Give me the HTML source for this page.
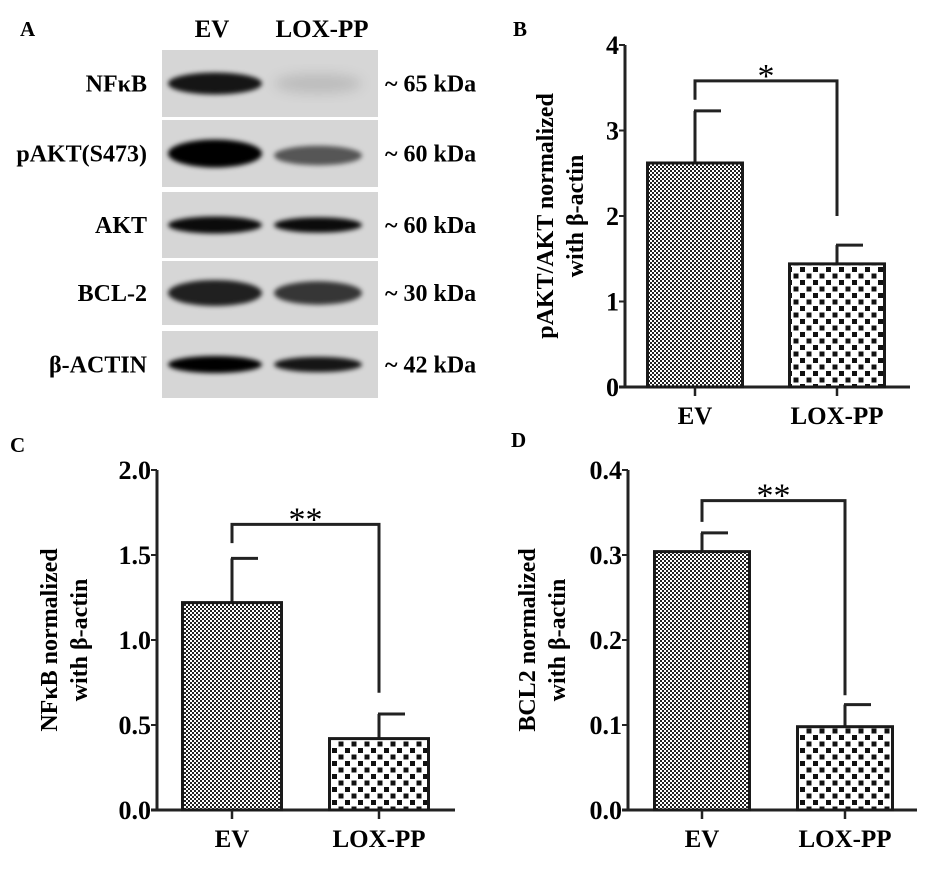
<!DOCTYPE html>
<html><head><meta charset="utf-8"><style>
html,body{margin:0;padding:0;background:#fff;}
svg{display:block;font-family:"Liberation Serif",serif;font-weight:bold;}
</style></head><body>
<svg width="944" height="884" viewBox="0 0 944 884" xmlns="http://www.w3.org/2000/svg">
<defs>
<pattern id="fine" width="4" height="4" patternUnits="userSpaceOnUse"><rect width="4" height="4" fill="#fff"/><rect width="2" height="2" fill="#222"/><rect x="2" y="2" width="2" height="2" fill="#222"/></pattern>
<pattern id="coarse" width="13" height="13" patternUnits="userSpaceOnUse"><rect width="13" height="13" fill="#fff"/><rect x="0.5" y="0.5" width="5" height="5" fill="#111"/><rect x="7" y="7" width="5" height="5" fill="#111"/></pattern>
<filter id="blur" x="-20%" y="-50%" width="140%" height="200%"><feGaussianBlur stdDeviation="2.5"/></filter>
<filter id="blur2" x="-20%" y="-50%" width="140%" height="200%"><feGaussianBlur stdDeviation="6"/></filter>
</defs>

<g>
<text x="20" y="36" font-size="21">A</text>
<text x="212" y="37" font-size="25" text-anchor="middle">EV</text>
<text x="322" y="37" font-size="25" text-anchor="middle">LOX-PP</text>
<g id="blots"></g>
</g>

<g id="chartB"></g>
<g id="chartC"></g>
<g id="chartD"></g>
</svg>
<script>
const NS="http://www.w3.org/2000/svg";
function mk(parent,tag,attrs,text){const e=document.createElementNS(NS,tag);for(const k in attrs)e.setAttribute(k,attrs[k]);if(text!==undefined)e.textContent=text;parent.appendChild(e);return e;}

const blotNames=["NFκB","pAKT(S473)","AKT","BCL-2","β-ACTIN"];
const blotSizes=["~  65 kDa","~  60 kDa","~  60 kDa","~  30 kDa","~  42 kDa"];
const bandEV=[0.9,1.0,0.95,0.85,1.0];
const bandLOX=[0.12,0.6,0.95,0.75,0.9];
const rows=[[50,117],[120,187],[192,258],[261,325],[331,398]];
const blots=document.getElementById('blots');
rows.forEach((r,i)=>{
  const g=mk(blots,'g',{});
  
  
  mk(g,'rect',{x:162,y:r[0],width:216,height:r[1]-r[0],fill:'#d6d6d6'});
  const cy=(r[0]+r[1])/2;
  const h=i==0?22:(i==1?28:(i==3?26:17));
  const ev=mk(g,'ellipse',{cx:215,cy:cy,rx:47,ry:h/2,fill:'#000','fill-opacity':bandEV[i],filter:'url(#blur)'});
  
  
  const lx=mk(g,'ellipse',{cx:318,cy:cy+(i==1?2:0),rx:44,ry:(i==1?h*0.35:h*0.45),fill:'#000','fill-opacity':bandLOX[i],filter:i==0?'url(#blur2)':'url(#blur)'});
  
  
  const t=mk(g,'text',{x:147,y:cy+8,'font-size':24,'text-anchor':'end'},blotNames[i]);
  
  
  const s=mk(g,'text',{x:385,y:cy+8,'font-size':24,'xml:space':'preserve'},blotSizes[i]);
  
  
});

const categories=["EV","LOX-PP"];
const bValues=[2.62,1.44];
const bErrors=[0.61,0.22];
const bTicks=["0","1","2","3","4"];
const cValues=[1.22,0.42];
const cErrors=[0.26,0.145];
const cTicks=["0.0","0.5","1.0","1.5","2.0"];
const dValues=[0.304,0.098];
const dErrors=[0.022,0.026];
const dTicks=["0.0","0.1","0.2","0.3","0.4"];

function chart(id,cfg){
  const g=document.getElementById(id);
  
  
  const y=v=>cfg.y0-(v/cfg.max)*(cfg.y0-cfg.yTop);
  mk(g,'text',{x:cfg.letterX,y:cfg.letterY,'font-size':21},cfg.letter);
  mk(g,'line',{x1:cfg.ax,y1:cfg.yTop,x2:cfg.ax,y2:cfg.y0,stroke:'#222','stroke-width':3});
  mk(g,'line',{x1:cfg.ax-6,y1:cfg.y0,x2:cfg.axEnd,y2:cfg.y0,stroke:'#222','stroke-width':3});
  cfg.ticks.forEach((t,i)=>{
    const v=cfg.max*i/(cfg.ticks.length-1);
    mk(g,'line',{x1:cfg.ax-6,y1:y(v),x2:cfg.ax,y2:y(v),stroke:'#222','stroke-width':2});
    const tx=mk(g,'text',{x:cfg.ax-6,y:y(v)+9,'font-size':26,'text-anchor':'end'},t);
    
    
  });
  const bw=cfg.barW;
  cfg.values.forEach((v,i)=>{
    const cx=cfg.centers[i];
    const top=y(v);
    const et=y(v+cfg.errors[i]);
    mk(g,'line',{x1:cx,y1:top,x2:cx,y2:et,stroke:'#222','stroke-width':3});
    mk(g,'line',{x1:cx-1,y1:et,x2:cx+26,y2:et,stroke:'#222','stroke-width':3});
    const b=mk(g,'rect',{x:cx-bw/2,y:top,width:bw,height:cfg.y0-top,fill:i==0?'url(#fine)':'url(#coarse)',stroke:'#1a1a1a','stroke-width':3});
    
    
    mk(g,'line',{x1:cx,y1:cfg.y0,x2:cx,y2:cfg.y0+9,stroke:'#222','stroke-width':2.5});
    const l=mk(g,'text',{x:cx,y:cfg.y0+37,'font-size':25,'text-anchor':'middle'},categories[i]);
    
    
  });
  const by=y(cfg.bracket);
  const x1=cfg.centers[0],x2=cfg.centers[1];
  const br=mk(g,'path',{d:`M${x1},${y(cfg.legL)} L${x1},${by} L${x2},${by} L${x2},${y(cfg.legR)}`,fill:'none',stroke:'#222','stroke-width':3});
  
  
  const st=mk(g,'text',{x:(x1+x2)/2,y:by+6,'font-size':34,'text-anchor':'middle','font-weight':'normal'},cfg.star);
  
  
  const yl=mk(g,'text',{transform:`translate(${cfg.labX},${cfg.labY}) rotate(-90)`,'font-size':24,'text-anchor':'middle'});
  
  
  mk(yl,'tspan',{x:0,y:0},cfg.lab1);
  mk(yl,'tspan',{x:0,y:30},cfg.lab2);
}

chart('chartB',{name:'chart-b-pakt',letter:'B',letterX:513,letterY:36,ax:625,axEnd:910,yTop:45,y0:387,max:4,ticks:bTicks,
  values:bValues,errors:bErrors,centers:[695,837],barW:95,bracket:3.58,legL:3.36,legR:2.0,star:'*',
  labX:553,labY:216,lab1:'pAKT/AKT normalized',lab2:'with β-actin'});
chart('chartC',{name:'chart-c-nfkb',letter:'C',letterX:10,letterY:452,ax:157,axEnd:455,yTop:470,y0:810,max:2,ticks:cTicks,
  values:cValues,errors:cErrors,centers:[232,379],barW:99,bracket:1.68,legL:1.57,legR:0.69,star:'**',
  labX:57,labY:640,lab1:'NFκB normalized',lab2:'with β-actin'});
chart('chartD',{name:'chart-d-bcl2',letter:'D',letterX:511,letterY:447,ax:628,axEnd:917,yTop:470,y0:810,max:0.4,ticks:dTicks,
  values:dValues,errors:dErrors,centers:[702,845],barW:95,bracket:0.364,legL:0.339,legR:0.135,star:'**',
  labX:535,labY:640,lab1:'BCL2 normalized',lab2:'with β-actin'});
</script>
</body></html>
